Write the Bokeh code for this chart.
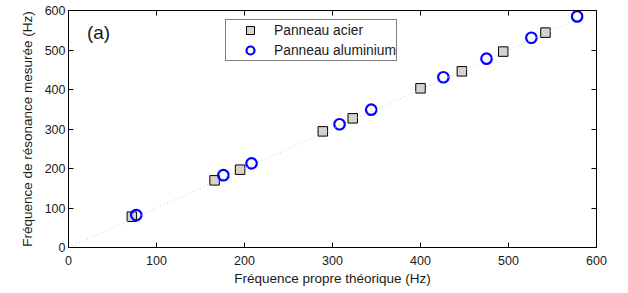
from bokeh.plotting import figure
from bokeh.models import LinearAxis, Legend, LegendItem, Label, Range1d, FixedTicker, Slope
from bokeh.embed import file_html
from bokeh.resources import INLINE

# Data
steel_theory = [72, 166, 195, 289, 323, 400, 447, 494, 542]
steel_meas = [78, 170, 197, 294, 327, 403, 446, 496, 544]
alu_theory = [77, 176, 208, 308, 344, 426, 475, 526, 578]
alu_meas = [82, 183, 213, 312, 349, 431, 478, 531, 585]
x_ticks = [0, 100, 200, 300, 400, 500, 600]
y_ticks = [0, 100, 200, 300, 400, 500, 600]
x_label = "Fréquence propre théorique (Hz)"
y_label = "Fréquence de résonance mesurée (Hz)"
legend_labels = ["Panneau acier", "Panneau aluminium"]
panel_tag = "(a)"

FONT = "Liberation Sans"
TXT = "#1a1a1a"

p = figure(frame_width=528, frame_height=237,
           x_range=Range1d(0, 600), y_range=Range1d(0, 600),
           output_backend="svg", toolbar_location=None,
           min_border_left=68, min_border_right=32,
           min_border_top=10, min_border_bottom=46,
           x_axis_location=None, y_axis_location=None)
p.background_fill_color = "white"
p.border_fill_color = "white"
p.outline_line_color = "black"
p.outline_line_width = 1
p.grid.grid_line_color = None


def make_axis(ticks, show_labels, label=None):
    ax = LinearAxis(ticker=FixedTicker(ticks=ticks))
    ax.major_tick_in = 5
    ax.major_tick_out = 0
    ax.minor_tick_line_color = None
    ax.axis_line_color = "black"
    ax.major_tick_line_color = "black"
    if show_labels:
        ax.major_label_text_font = FONT
        ax.major_label_text_font_size = "12.5px"
        ax.major_label_text_color = TXT
        if label:
            ax.axis_label = label
            ax.axis_label_text_font = FONT
            ax.axis_label_text_font_size = "13.5px"
            ax.axis_label_text_font_style = "normal"
            ax.axis_label_text_color = TXT
    else:
        ax.major_label_text_color = None
        ax.major_label_text_font_size = "1px"
        ax.major_label_standoff = 0
    return ax


xb = make_axis(x_ticks, True, x_label)
xb.major_label_standoff = 8
xb.axis_label_standoff = 3
yl = make_axis(y_ticks, True, y_label)
yl.major_label_standoff = 3
yl.axis_label_standoff = 7
p.add_layout(xb, "below")
p.add_layout(yl, "left")
p.add_layout(make_axis(x_ticks, False), "above")
p.add_layout(make_axis(y_ticks, False), "right")

p.add_layout(Slope(gradient=1, y_intercept=0, line_color="#c8c8c8",
                   line_dash="1 3", line_width=1))

r1 = p.scatter(steel_theory, steel_meas, marker="square", size=9.5,
               fill_color="#d6d3cc", line_color="black", line_width=1)
r2 = p.scatter(alu_theory, alu_meas, marker="circle", size=10.5,
               fill_color=None, line_color="#0000ff", line_width=2.2)

legend = Legend(items=[LegendItem(label=legend_labels[0], renderers=[r1]),
                       LegendItem(label=legend_labels[1], renderers=[r2])],
                location=(157, 186))
legend.border_line_color = "black"
legend.border_line_width = 1
legend.background_fill_color = "white"
legend.label_text_font = FONT
legend.label_text_font_size = "13.8px"
legend.label_text_color = TXT
legend.padding = 0
legend.margin = 0
legend.spacing = -1
legend.glyph_width = 48
legend.glyph_height = 20
legend.label_height = 20
legend.label_standoff = 0
p.add_layout(legend)

p.add_layout(Label(x=21, y=545, x_units="data", y_units="data", text=panel_tag,
                   text_font=FONT, text_font_size="19px", text_color=TXT,
                   text_baseline="middle", text_align="left"))

open("out.html", "w").write(file_html(p, INLINE))
